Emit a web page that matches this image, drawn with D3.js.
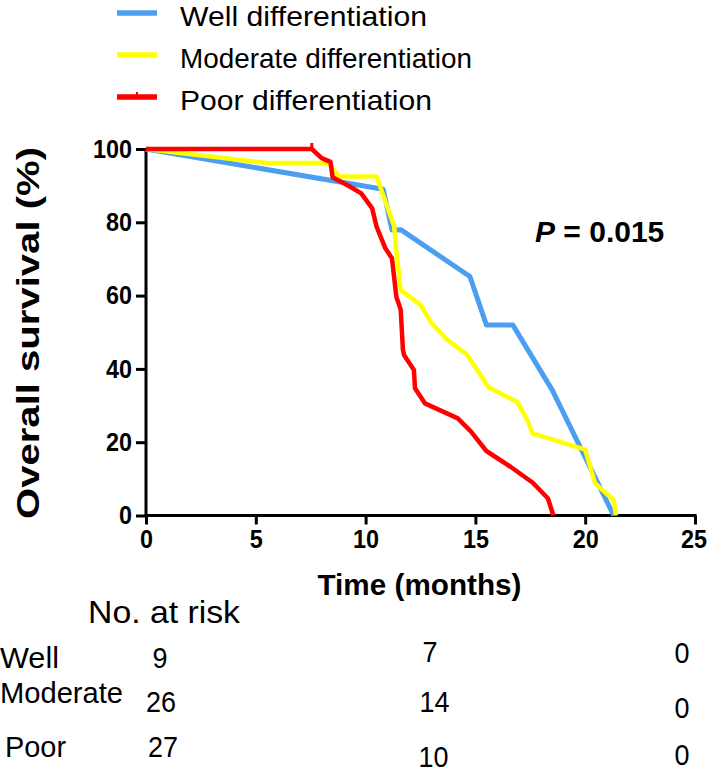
<!DOCTYPE html>
<html>
<head>
<meta charset="utf-8">
<script src="https://cdn.jsdelivr.net/npm/d3@7"></script>
<style>
  html, body { margin: 0; padding: 0; background: #fff; }
  svg { display: block; font-family: "Liberation Sans", Arial, sans-serif; }
</style>
</head>
<body>
<svg id="chart" width="709" height="772"></svg>
<script>
// ---------------- DATA ----------------
const seriesNames = ["Well differentiation", "Moderate differentiation", "Poor differentiation"];
const seriesColors = ["#4c9ff0", "#ffff00", "#ff0000"];

// time (months), survival (%)
const wellTime = [0, 10.8, 11.2, 11.6, 14.75, 15.5, 16.7, 18.5, 21.3];
const wellSurv = [100, 89, 77.9, 78, 65.2, 52, 52, 34.2, 0];

const moderateTime = [0, 5.5, 8.3, 8.8, 10.5, 11.0, 11.3, 11.4, 11.6, 12.5, 13.0, 13.7, 14.6, 15.6, 16.9, 17.4, 17.6, 20.0, 20.45, 21.3, 21.4];
const moderateSurv = [100, 96.2, 96.2, 92.5, 92.5, 84, 79, 72, 61.5, 57.5, 52.5, 48, 44, 35, 31, 25.6, 22.4, 18, 8.8, 4.2, 0];

const poorTime = [0, 7.55, 8.0, 8.4, 8.5, 9.3, 9.8, 10.3, 10.5, 10.9, 11.2, 11.4, 11.6, 11.7, 11.75, 12.2, 12.25, 12.7, 14.2, 14.8, 15.5, 16.6, 17.6, 18.3, 18.55];
const poorSurv = [100, 100, 97.5, 96.5, 92.3, 89.7, 87.9, 83.8, 78.8, 72.9, 70.2, 59.7, 56.1, 45.2, 43.8, 39.7, 34.7, 30.6, 26.5, 22.9, 17.6, 13.3, 9, 4.7, 0];

const poorCensorTime = [7.55];
const poorCensorSurv = [100];

const xTicks = [0, 5, 10, 15, 20, 25];
const yTicks = [0, 20, 40, 60, 80, 100];

const pValueLabel = "0.015";

const riskGroups = ["Well", "Moderate", "Poor"];
const riskWell = [9, 7, 0];
const riskModerate = [26, 14, 0];
const riskPoor = [27, 10, 0];

// ---------------- LAYOUT ----------------
const svg = d3.select("#chart");
const x = d3.scaleLinear().domain([0, 25]).range([146, 695]);
const y = d3.scaleLinear().domain([0, 100]).range([515.5, 149]);

const series = [
  { t: wellTime, s: wellSurv },
  { t: moderateTime, s: moderateSurv },
  { t: poorTime, s: poorSurv }
];

// Axes
const axisW = 3;
const yAxis = d3.axisLeft(y).tickValues(yTicks).tickSize(10).tickPadding(4).tickFormat(d3.format("d"));
const xAxis = d3.axisBottom(x).tickValues(xTicks).tickSize(9).tickPadding(5).tickFormat(d3.format("d"));

const gy = svg.append("g").attr("transform", `translate(${x(0)},0)`).call(yAxis);
const gx = svg.append("g").attr("transform", `translate(0,${y(0)})`).call(xAxis);
[gx, gy].forEach(g => {
  g.select(".domain").attr("stroke", "#000").attr("stroke-width", axisW).attr("d",
    g === gx ? `M${x(0)-1.5},0H${x(25)+1.5}` : `M0,${y(0)+1.5}V${y(100)}`);
  g.selectAll(".tick line").attr("stroke", "#000").attr("stroke-width", axisW);
  g.selectAll(".tick text").attr("fill", "#000").attr("font-size", 26).attr("font-weight", "bold")
    .attr("font-family", "Liberation Sans, Arial, sans-serif")
    .attr("textLength", d => String(d).length * 13)
    .attr("lengthAdjust", "spacingAndGlyphs");
});
// keep the last x label inside the frame
gx.selectAll(".tick text").filter(d => d === 25).attr("dx", -1.5);

// Curves
const line = d3.line().x(d => x(d[0])).y(d => y(d[1]));
[0, 1, 2].forEach(i => {
  const pts = series[i].t.map((t, k) => [t, series[i].s[k]]);
  svg.append("path").datum(pts)
    .attr("d", line)
    .attr("fill", "none")
    .attr("stroke", seriesColors[i])
    .attr("stroke-width", i === 0 ? 5 : 4.5)
    .attr("stroke-linejoin", "round")
    .attr("stroke-linecap", "butt");
});
// censor ticks
poorCensorTime.forEach((t, k) => {
  svg.append("line")
    .attr("x1", x(t)).attr("x2", x(t))
    .attr("y1", y(poorCensorSurv[k])).attr("y2", y(poorCensorSurv[k]) - 6)
    .attr("stroke", seriesColors[2]).attr("stroke-width", 3);
});

// Axis titles
svg.append("text")
  .attr("x", (x(0) + x(25)) / 2 - 1).attr("y", 595)
  .attr("text-anchor", "middle").attr("font-weight", "bold").attr("font-size", 30)
  .attr("textLength", 204).attr("lengthAdjust", "spacingAndGlyphs")
  .text("Time (months)");

svg.append("text")
  .attr("transform", `translate(39,333) rotate(-90)`)
  .attr("text-anchor", "middle").attr("font-weight", "bold").attr("font-size", 31)
  .attr("textLength", 372).attr("lengthAdjust", "spacingAndGlyphs")
  .text("Overall survival (%)");

// P value
const pt = svg.append("text").attr("x", 535).attr("y", 242)
  .attr("font-weight", "bold").attr("font-size", 30);
pt.append("tspan").attr("font-style", "italic").text("P");
pt.append("tspan").text(" = " + pValueLabel);

// Legend
const legY = [13, 55, 97];
const legW = [247, 292, 252];
seriesNames.forEach((name, i) => {
  svg.append("line").attr("x1", 117).attr("x2", 157).attr("y1", legY[i]).attr("y2", legY[i])
    .attr("stroke", seriesColors[i]).attr("stroke-width", 5.5);
  svg.append("text").attr("x", 180).attr("y", legY[i] + 12.5)
    .attr("font-size", 28).attr("fill", "#000")
    .attr("textLength", legW[i]).attr("lengthAdjust", "spacingAndGlyphs")
    .text(name);
});
svg.append("line").attr("x1", 137).attr("x2", 137).attr("y1", legY[2]).attr("y2", legY[2] - 5)
  .attr("stroke", seriesColors[2]).attr("stroke-width", 2);

// Risk table
svg.append("text").attr("x", 88).attr("y", 623).attr("font-size", 32)
  .attr("textLength", 152).attr("lengthAdjust", "spacingAndGlyphs").text("No. at risk");

const rowLabelX = [0, 0, 5];
const rowLabelBase = [668, 703, 757];
const rowLabelW = [59, 123, 61];
riskGroups.forEach((g, i) => {
  svg.append("text").attr("x", rowLabelX[i]).attr("y", rowLabelBase[i]).attr("font-size", 30)
    .attr("textLength", rowLabelW[i]).attr("lengthAdjust", "spacingAndGlyphs").text(g);
});

const riskRows = [riskWell, riskModerate, riskPoor];
const colX = [[160, 430, 682], [161, 434.5, 682], [163, 433.5, 682]];
const cellBase = [[668, 662, 663], [712, 712, 718], [757, 767, 765]];
riskRows.forEach((row, r) => {
  row.forEach((v, c) => {
    const s = String(v);
    svg.append("text").attr("x", colX[r][c]).attr("y", cellBase[r][c])
      .attr("text-anchor", "middle").attr("font-size", 30)
      .attr("textLength", s.length * 15).attr("lengthAdjust", "spacingAndGlyphs")
      .text(s);
  });
});
</script>
</body>
</html>
